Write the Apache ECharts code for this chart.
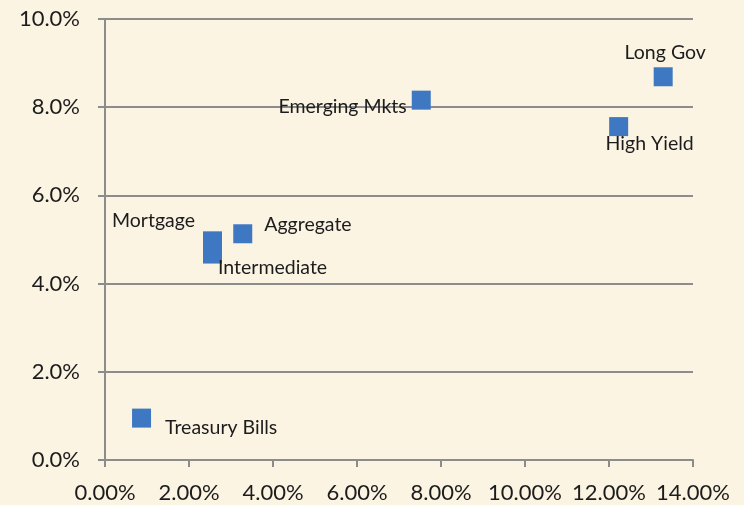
<!DOCTYPE html>
<html>
<head>
<meta charset="utf-8">
<script src="https://cdn.jsdelivr.net/npm/echarts@6/dist/echarts.min.js"></script>
<style>
html,body{margin:0;padding:0;background:#FBF4E3;}
#chart{width:744px;height:505px;}
</style>
</head>
<body>
<div id="chart"></div>
<script>
// Data (x = risk %, y = return %)
const names = ['Treasury Bills','Mortgage','Intermediate','Aggregate','Emerging Mkts','High Yield','Long Gov'];
const xValues = [0.87, 2.56, 2.56, 3.28, 7.53, 12.23, 13.29];
const yValues = [0.95, 4.97, 4.67, 5.13, 8.16, 7.56, 8.69];
const xTicks = [0, 2, 4, 6, 8, 10, 12, 14];
const yTicks = [0, 2, 4, 6, 8, 10];

// Label placement (style only)
const labelStyle = {
  'Treasury Bills': {position:'right', distance:14, offset:[0,10]},
  'Mortgage': {position:'left', distance:8, offset:[0,-20]},
  'Intermediate': {position:'right', distance:0, offset:[-4,14]},
  'Aggregate': {position:'right', distance:12, offset:[0,-9]},
  'Emerging Mkts': {position:'left', distance:5, offset:[0,7]},
  'High Yield': {position:'bottom', distance:0, offset:[31,-2]},
  'Long Gov': {position:'top', distance:5, offset:[2,0]}
};

const data = names.map((n,i)=>({
  name:n,
  value:[xValues[i], yValues[i]],
  label:Object.assign({show:true, formatter:n}, labelStyle[n])
}));

const axisColor = '#8C8C8C';
const textColor = '#1C1C1C';
const chart = echarts.init(document.getElementById('chart'));
chart.setOption({
  backgroundColor:'#FBF4E3',
  animation:false,
  grid:{left:105, right:51, top:19, bottom:45},
  xAxis:{
    type:'value', min:xTicks[0], max:xTicks[xTicks.length-1], interval:2,
    axisLine:{show:true, onZero:false, lineStyle:{color:axisColor, width:2}},
    axisTick:{show:true, length:7, lineStyle:{color:axisColor, width:2}},
    splitLine:{show:false},
    axisLabel:{margin:22, fontFamily:'Lato', fontSize:22, color:textColor,
      formatter:v=>v.toFixed(2)+'%'}
  },
  yAxis:{
    type:'value', min:yTicks[0], max:yTicks[yTicks.length-1], interval:2,
    axisLine:{show:true, onZero:false, lineStyle:{color:axisColor, width:2}},
    axisTick:{show:true, length:7, lineStyle:{color:axisColor, width:2}},
    splitLine:{show:true, lineStyle:{color:axisColor, width:2}},
    axisLabel:{margin:25, fontFamily:'Lato', fontSize:22, color:textColor,
      formatter:v=>v.toFixed(1)+'%'}
  },
  series:[{
    type:'scatter',
    symbol:'rect',
    symbolSize:19,
    itemStyle:{color:'#3F78C2', opacity:1},
    label:{fontFamily:'Lato', fontSize:19.5, color:textColor},
    data:data
  }]
});
</script>
</body>
</html>
